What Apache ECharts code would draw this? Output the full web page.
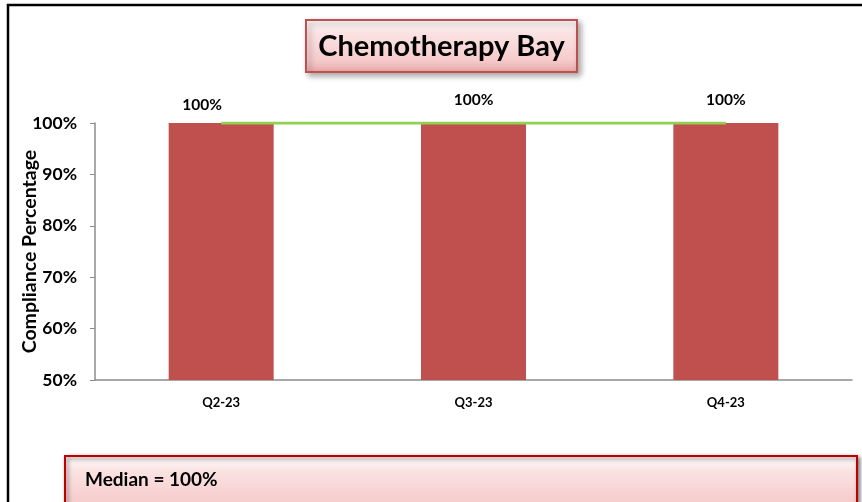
<!DOCTYPE html>
<html><head><meta charset="utf-8">
<script src="https://cdn.jsdelivr.net/npm/echarts@6/dist/echarts.min.js"></script>
<style>html,body{margin:0;padding:0;background:#fff}#c{width:862px;height:502px}</style>
</head><body><div id="c"></div>
<script>
const categories = ['Q2-23', 'Q3-23', 'Q4-23'];
const compliance = [100, 100, 100];
const median = [100, 100, 100];
const titleText = 'Chemotherapy Bay';
const medianText = 'Median = 100%';

const chart = echarts.init(document.getElementById('c'));
const F = 'Lato, "Open Sans", sans-serif';
const W = 'bold';
const boxFill = new echarts.graphic.LinearGradient(0, 0, 0, 1, [
  {offset: 0, color: '#ffffff'}, {offset: 0.25, color: '#fbe3e3'}, {offset: 0.75, color: '#f6cccc'}, {offset: 1, color: '#e9a9a9'}
]);
chart.setOption({
  animation: false,
  grid: {left: 95, right: 10, top: 123, bottom: 122, outerBoundsMode: 'none', containLabel: false},
  xAxis: {
    type: 'category', data: categories,
    axisLine: {lineStyle: {color: '#8c8c8c', width: 1.5}},
    axisTick: {show: false},
    axisLabel: {color: '#000', fontFamily: F, fontWeight: W, fontSize: 13, margin: 16}
  },
  yAxis: {
    type: 'value', min: 50, max: 100, interval: 10,
    name: 'Compliance Percentage', nameLocation: 'middle', nameGap: 65, nameRotate: 90, nameMoveOverlap: false,
    nameTextStyle: {color: '#000', fontFamily: F, fontWeight: W, fontSize: 19.5, verticalAlign: 'middle'},
    axisLine: {show: true, lineStyle: {color: '#8c8c8c', width: 1.5}},
    axisTick: {show: true, length: 5, lineStyle: {color: '#8c8c8c'}},
    splitLine: {show: false},
    axisLabel: {color: '#000', fontFamily: F, fontWeight: W, fontSize: 17.5, margin: 18, formatter: v => v + '%'}
  },
  series: [
    {
      type: 'bar', data: compliance.map((v, i) => ({value: v, label: i === 0 ? {offset: [-19, 0], distance: 10} : {distance: 15}})),
      barWidth: 105,
      itemStyle: {color: '#C0504D'},
      label: {show: true, position: 'top', color: '#000', fontFamily: F, fontWeight: W, fontSize: 15.5, formatter: p => p.value + '%'},
      z: 2
    },
    {
      type: 'line', data: median, symbol: 'none',
      lineStyle: {color: '#92D050', width: 3},
      z: 3
    }
  ],
  graphic: [
    {type: 'rect', shape: {x: 8, y: 5, width: 900, height: 600}, style: {fill: 'none', stroke: '#000', lineWidth: 2.5}, z: 10},
    {type: 'rect', shape: {x: 306, y: 20, width: 271, height: 52}, style: {fill: boxFill, stroke: '#c0504d', lineWidth: 2, shadowBlur: 6, shadowOffsetX: 3, shadowOffsetY: 3, shadowColor: 'rgba(0,0,0,0.35)'}, z: 10},
    {type: 'text', x: 441.5, y: 47, style: {text: titleText, fill: '#000', font: W + ' 29px ' + F, align: 'center', verticalAlign: 'middle'}, z: 11},
    {type: 'rect', shape: {x: 65, y: 456, width: 792, height: 60}, style: {fill: boxFill, stroke: '#c00000', lineWidth: 2, shadowBlur: 4, shadowOffsetX: 2, shadowOffsetY: 2, shadowColor: 'rgba(0,0,0,0.5)'}, z: 10},
    {type: 'text', x: 85, y: 480, style: {text: medianText, fill: '#000', font: W + ' 19px ' + F, align: 'left', verticalAlign: 'middle'}, z: 11}
  ]
});
</script></body></html>
